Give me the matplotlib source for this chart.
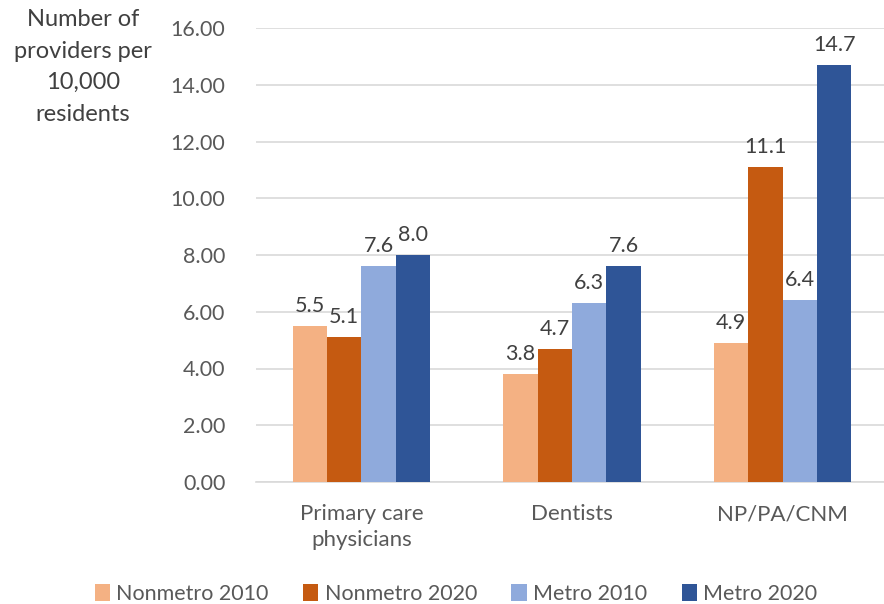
import numpy as np
import matplotlib.pyplot as plt

plt.rcParams['font.family'] = ['Lato', 'DejaVu Sans']

categories = ['Primary care\nphysicians', 'Dentists', 'NP/PA/CNM']
series = ['Nonmetro 2010', 'Nonmetro 2020', 'Metro 2010', 'Metro 2020']
values = [
    [5.5, 3.8, 4.9],    # Nonmetro 2010
    [5.1, 4.7, 11.1],   # Nonmetro 2020
    [7.6, 6.3, 6.4],    # Metro 2010
    [8.0, 7.6, 14.7],   # Metro 2020
]
colors = ['#F4B183', '#C55A11', '#8FAADC', '#2F5597']
text_color = '#595959'

fig = plt.figure(figsize=(8.84, 6.04), dpi=100)
ax = fig.add_axes([256 / 884, 1 - 482 / 604, 632 / 884, 454 / 604])

x = np.arange(len(categories))
w = 0.163
for i, (name, vals) in enumerate(zip(series, values)):
    pos = x + (i - 1.5) * w
    bars = ax.bar(pos, vals, w, color=colors[i], label=name, zorder=3)
    for b, v in zip(bars, vals):
        ax.text(b.get_x() + b.get_width() / 2, v + 0.35, f'{v:.1f}',
                ha='center', va='bottom', fontsize=15.5, color='#404040')

ax.set_ylim(0, 16)
ax.set_xlim(-0.5, 2.5)
ax.set_yticks(np.arange(0, 17, 2))
ax.set_yticklabels([f'{t:.2f}' for t in np.arange(0, 17, 2)], fontsize=15.5)
ax.set_xticks(x)
ax.set_xticklabels(categories, fontsize=16, linespacing=1.35)
ax.tick_params(axis='both', length=0, labelcolor=text_color)
ax.tick_params(axis='y', pad=22)
ax.tick_params(axis='x', pad=16)
ax.grid(axis='y', color='#D9D9D9', linewidth=1.2, zorder=0)
for s in ['top', 'right', 'left']:
    ax.spines[s].set_visible(False)
ax.spines['bottom'].set_color('#D9D9D9')
ax.spines['bottom'].set_linewidth(1.2)

fig.text(83 / 884, 1 - 9 / 604, 'Number of\nproviders per\n10,000\nresidents',
         ha='center', va='top', fontsize=17, color='#404040', linespacing=1.62)

fig.legend(*ax.get_legend_handles_labels(), loc='center',
           bbox_to_anchor=(456 / 884, 1 - 594 / 604), ncol=4, frameon=False,
           fontsize=15.5, handlelength=0.7, handleheight=0.8, handletextpad=0.3,
           columnspacing=1.6, labelcolor=text_color)

fig.savefig('out.png', dpi=100)
